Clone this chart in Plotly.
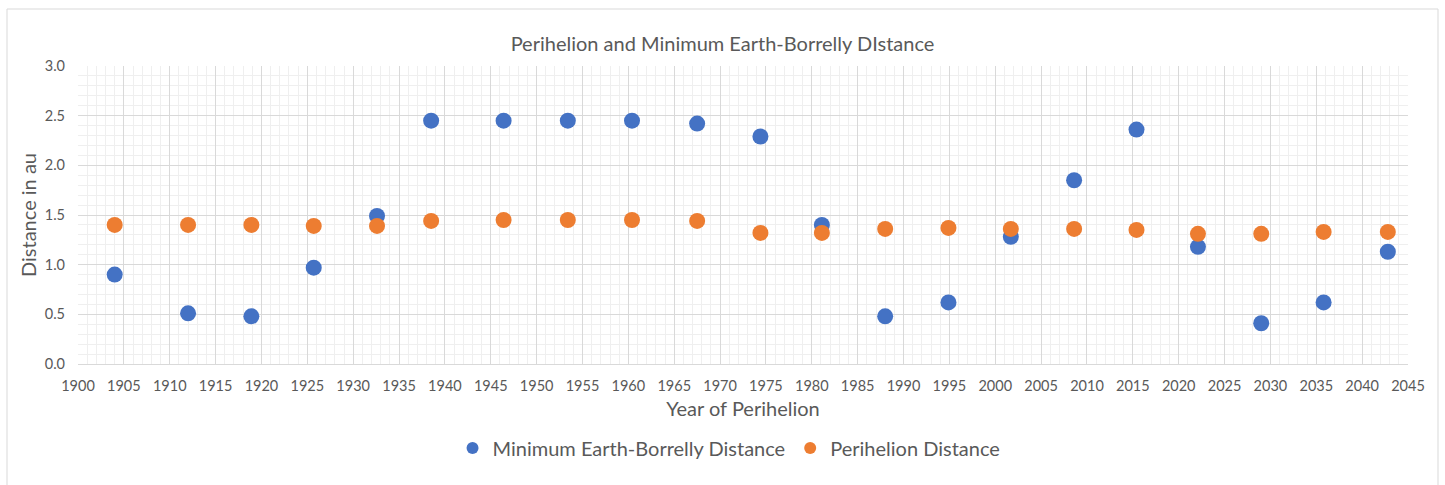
import plotly.graph_objects as go

# Year of each perihelion passage of comet Borrelly
years = [1904.0, 1912.0, 1918.9, 1925.7, 1932.6, 1938.5, 1946.4, 1953.4, 1960.4,
         1967.5, 1974.4, 1981.1, 1988.0, 1994.9, 2001.7, 2008.6, 2015.4, 2022.1,
         2029.0, 2035.8, 2042.8]

# Closest approach to Earth around each passage (au)
min_earth_dist = [0.90, 0.51, 0.48, 0.97, 1.49, 2.45, 2.45, 2.45, 2.45, 2.42, 2.29,
                  1.40, 0.48, 0.62, 1.28, 1.85, 2.36, 1.18, 0.41, 0.62, 1.13]

# Perihelion distance from the Sun (au)
perihelion_dist = [1.40, 1.40, 1.40, 1.39, 1.39, 1.44, 1.45, 1.45, 1.45, 1.44, 1.32,
                   1.32, 1.36, 1.37, 1.36, 1.36, 1.35, 1.31, 1.31, 1.33, 1.33]

BLUE = "#4472C4"
ORANGE = "#ED7D31"
TEXT = "#595959"
FONT = "Lato, 'Open Sans', sans-serif"

fig = go.Figure()
fig.add_trace(go.Scatter(
    x=years, y=min_earth_dist, mode="markers", name="Minimum Earth-Borrelly Distance",
    marker=dict(color=BLUE, size=16),
))
fig.add_trace(go.Scatter(
    x=years, y=perihelion_dist, mode="markers", name="Perihelion Distance",
    marker=dict(color=ORANGE, size=16),
))

fig.update_layout(
    width=1445, height=485,
    margin=dict(l=78, r=37, t=66, b=121),
    paper_bgcolor="white", plot_bgcolor="white",
    font=dict(family=FONT, color=TEXT, size=14),
    title=dict(text="Perihelion and Minimum Earth-Borrelly DIstance",
               x=0.5, xanchor="center", y=1 - 44 / 485, yanchor="middle",
               font=dict(size=20, color=TEXT)),
    showlegend=True,
    legend=dict(orientation="h", x=0.4895, xanchor="center", y=-0.282, yanchor="middle",
                font=dict(size=20, color=TEXT), itemsizing="constant",
                itemwidth=30, tracegroupgap=0),
    xaxis=dict(
        range=[1900, 2045], dtick=5, tick0=1900, showgrid=True,
        gridcolor="#d9d9d9", gridwidth=1, zeroline=False,
        showline=True, linecolor="#d9d9d9", mirror=False,
        ticks="", tickfont=dict(size=14.5, color=TEXT), ticklabelstandoff=9,
        minor=dict(dtick=1, showgrid=True, gridcolor="#efefef", gridwidth=1),
        title=dict(text="Year of Perihelion", font=dict(size=20, color=TEXT), standoff=8),
    ),
    yaxis=dict(
        range=[0, 3.0], dtick=0.5, tick0=0, tickformat=".1f", showgrid=True,
        gridcolor="#d9d9d9", gridwidth=1, zeroline=False,
        showline=False, ticks="", tickfont=dict(size=14.5, color=TEXT), ticklabelstandoff=12,
        minor=dict(dtick=0.1, showgrid=True, gridcolor="#efefef", gridwidth=1),
        title=dict(text="Distance in au", font=dict(size=20, color=TEXT), standoff=2),
    ),
    shapes=[dict(type="rect", xref="paper", yref="paper",
                 x0=(7 - 78) / 1330, x1=(1438 - 78) / 1330,
                 y0=(364 - 495) / 298, y1=(364 - 9) / 298,
                 line=dict(color="#d9d9d9", width=1), fillcolor="rgba(0,0,0,0)",
                 layer="below")],
)

fig.write_html("out.html")
